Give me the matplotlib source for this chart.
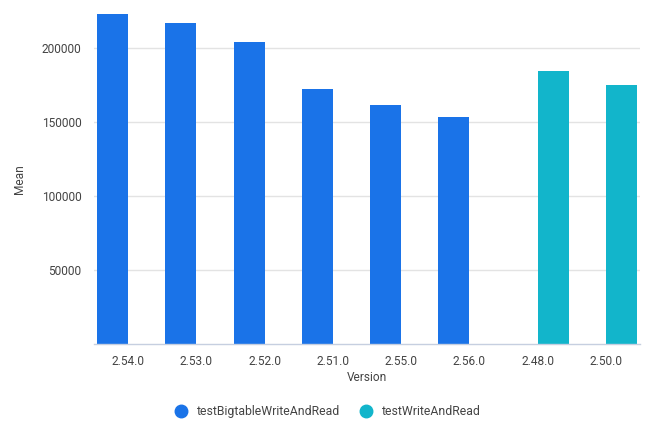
import matplotlib.pyplot as plt
import numpy as np
from matplotlib.lines import Line2D

versions = ["2.54.0", "2.53.0", "2.52.0", "2.51.0", "2.55.0", "2.56.0", "2.48.0", "2.50.0"]
series_names = ["testBigtableWriteAndRead", "testWriteAndRead"]
bigtable_mean = [223000, 216900, 204000, 172300, 161500, 153400, np.nan, np.nan]
write_read_mean = [np.nan, np.nan, np.nan, np.nan, np.nan, np.nan, 184500, 175000]
y_ticks = [50000, 100000, 150000, 200000]

colors = ["#1a73e8", "#12b5cb"]
text_color = "#444444"

plt.rcParams["font.family"] = ["Roboto", "DejaVu Sans"]

fig = plt.figure(figsize=(6.5, 4.42), dpi=100)
ax = fig.add_axes([94 / 650, 98 / 442, 546 / 650, 330 / 442])

x = np.arange(len(versions))
bar_w = 0.455
ax.bar(x - bar_w / 2, bigtable_mean, width=bar_w, color=colors[0], zorder=2)
ax.bar(x + bar_w / 2, write_read_mean, width=bar_w, color=colors[1], zorder=2)

ax.set_xlim(-0.5, len(versions) - 0.5)
ax.set_ylim(0, 223000)
ax.set_xticks(x)
ax.set_xticklabels(versions)
ax.set_yticks(y_ticks)
ax.set_yticklabels([str(v) for v in y_ticks])
ax.tick_params(axis="both", length=0, labelsize=8.6, colors=text_color)
ax.tick_params(axis="x", pad=8)
ax.tick_params(axis="y", pad=9)

ax.grid(True, axis="y", color="#e3e3e3", linewidth=1, zorder=0)
for side in ["top", "right", "left"]:
    ax.spines[side].set_visible(False)
ax.spines["bottom"].set_color("#c6cfe0")
ax.spines["bottom"].set_linewidth(1)
ax.spines["bottom"].set_zorder(3)

ax.set_xlabel("Version", fontsize=8.6, color=text_color)
ax.xaxis.set_label_coords((366.7 - 94) / 546, -(377.7 - 344) / 330)
ax.xaxis.label.set_va("center")
ax.set_ylabel("Mean", fontsize=8.6, color=text_color)
ax.yaxis.set_label_coords((19 - 94) / 546, 0.5)
ax.yaxis.label.set_va("center")

handles = [
    Line2D([0], [0], marker="o", linestyle="none", markersize=9,
           markerfacecolor=c, markeredgecolor=c)
    for c in colors
]
fig.legend(handles, series_names, loc="center", bbox_to_anchor=(0.5, 1 - 411.5 / 442),
           ncol=2, frameon=False, fontsize=8.8, labelcolor=text_color,
           handletextpad=0.3, columnspacing=1.1)

fig.savefig("out.png", dpi=100)
